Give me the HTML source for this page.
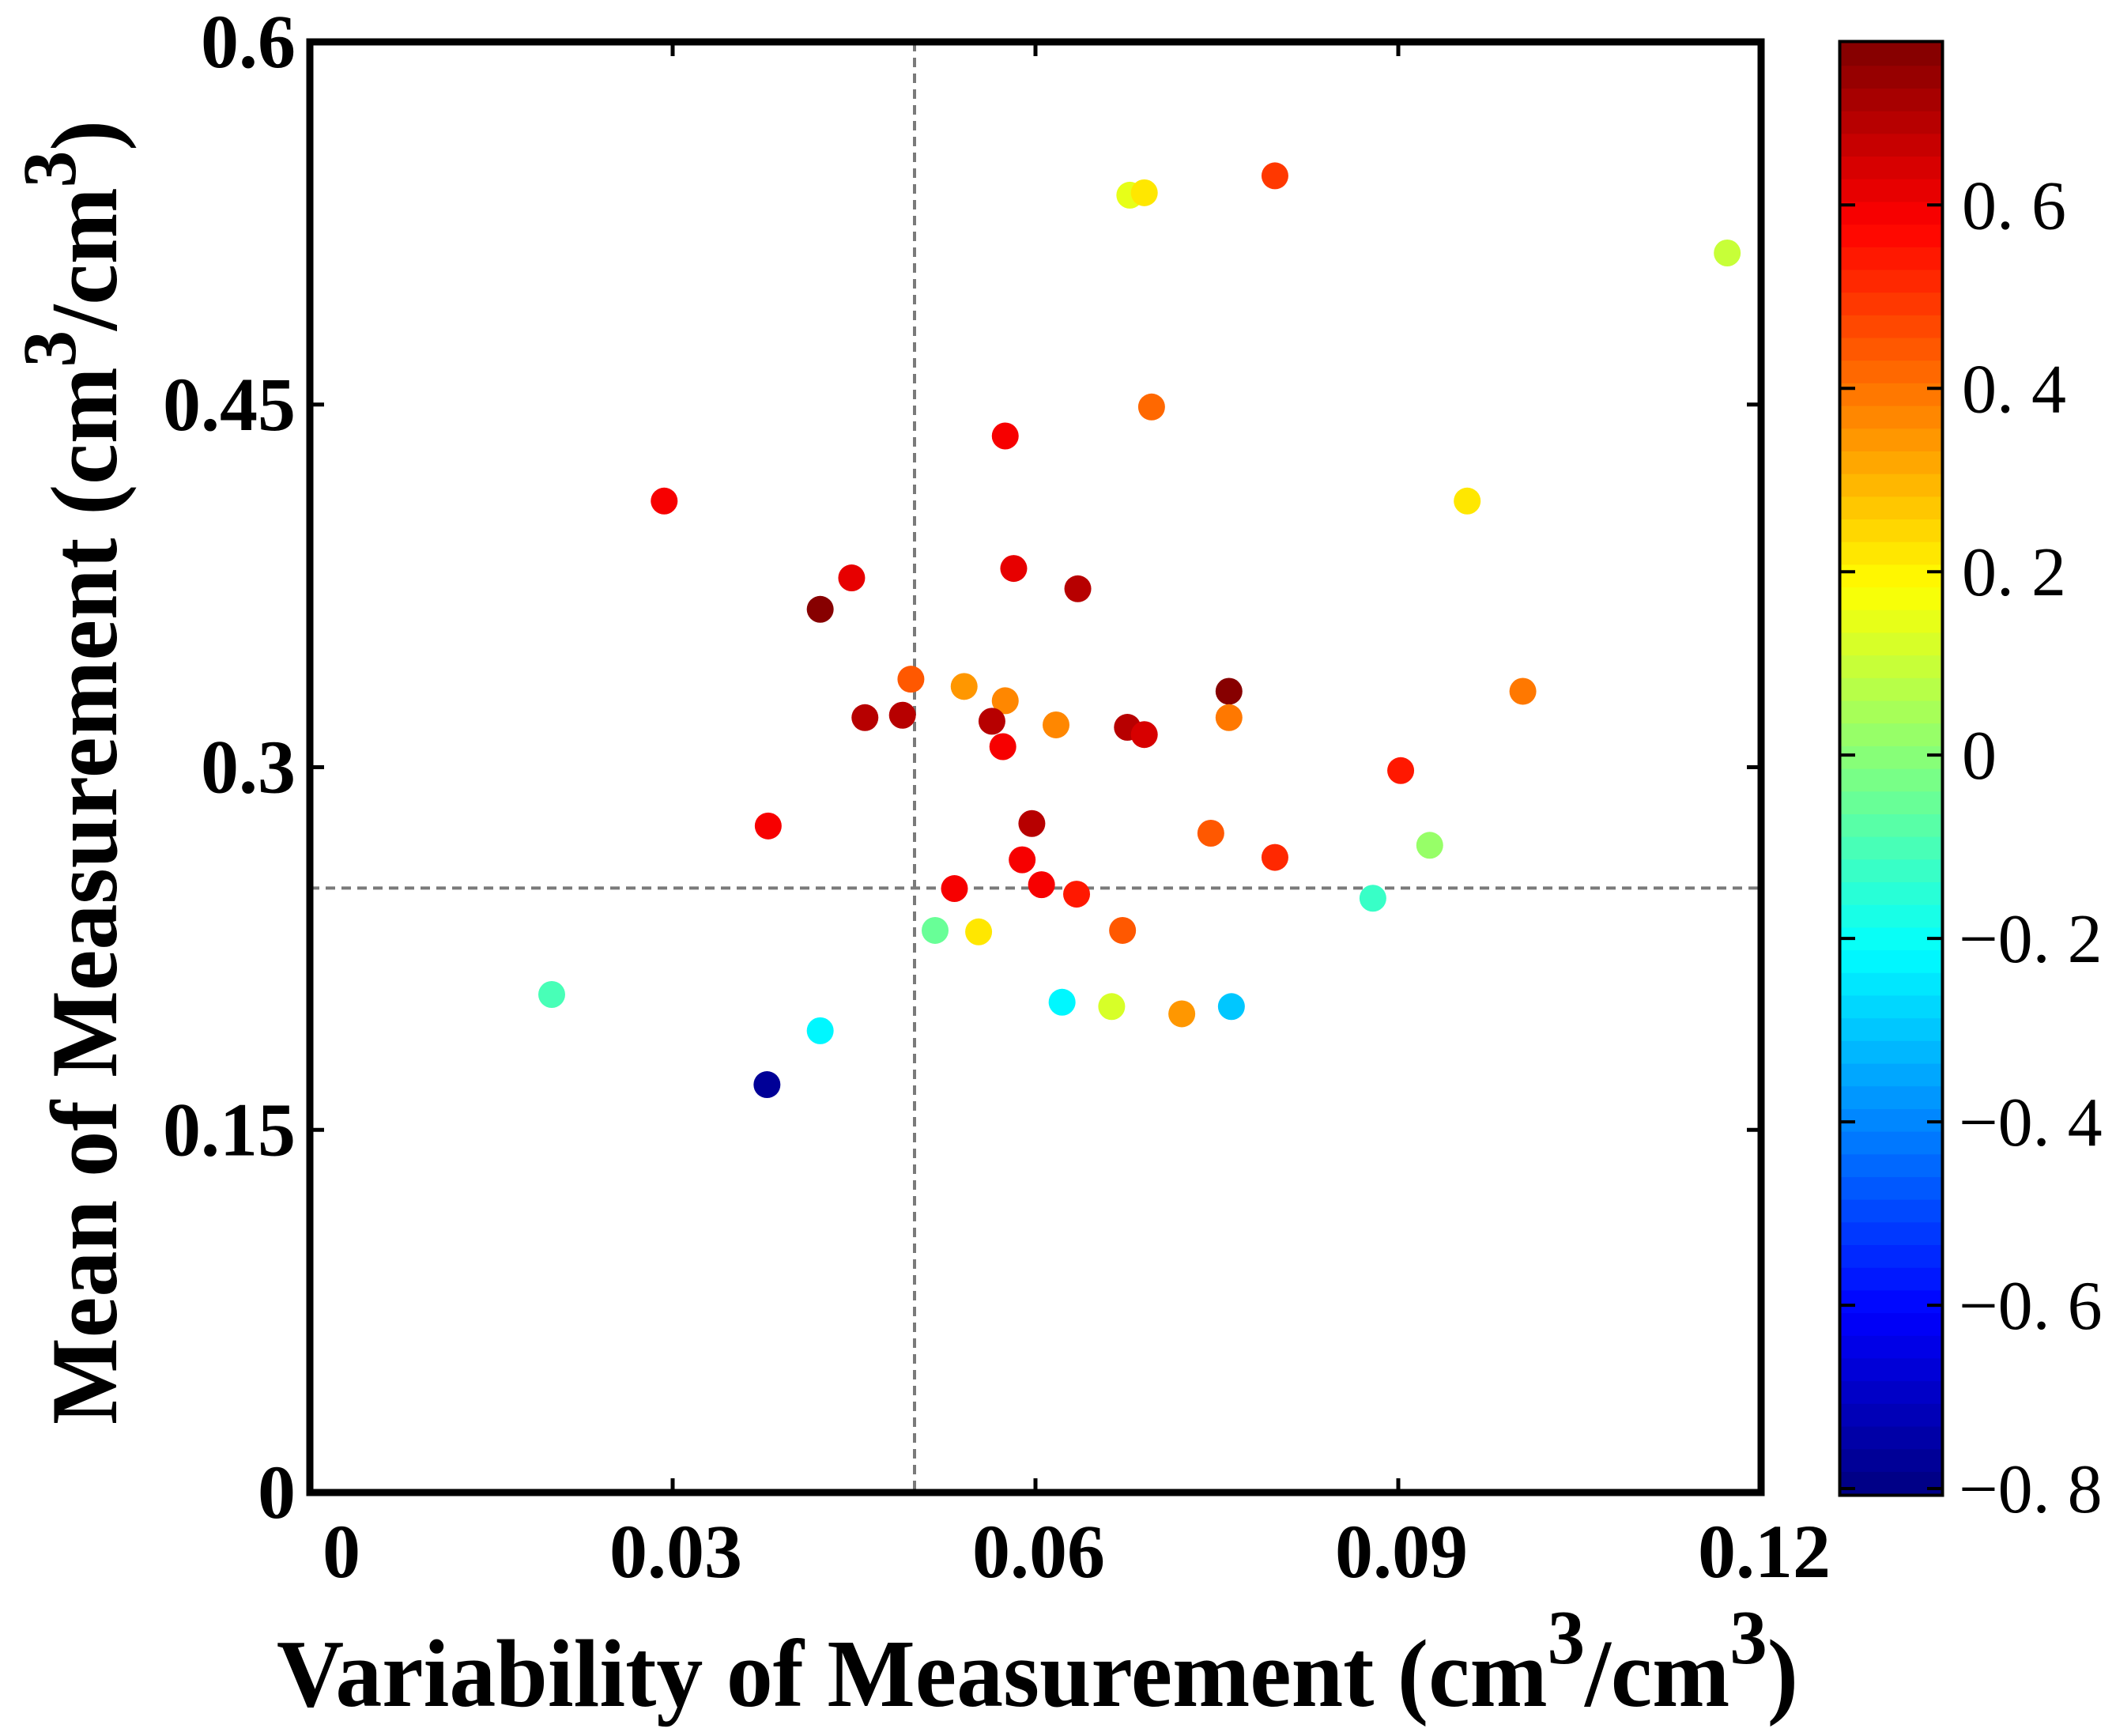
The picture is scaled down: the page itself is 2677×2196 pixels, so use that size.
<!DOCTYPE html>
<html><head><meta charset="utf-8"><style>
html,body{margin:0;padding:0;background:#fff;}
svg{display:block;}
text{font-family:"Liberation Serif","DejaVu Serif",serif;}
</style></head><body>
<svg id="chart" width="2677" height="2196" viewBox="0 0 2677 2196" xmlns="http://www.w3.org/2000/svg">
<rect width="2677" height="2196" fill="#fff"/>
<g id="plot"></g>
</svg>
<script>
const xValues = [0.0798,0.0678,0.0690,0.1172,0.0696,0.0575,0.0293,0.0957,0.0448,0.0582,0.0635,0.0422,0.0497,0.0541,0.0575,0.0760,0.1003,0.0459,0.0490,0.0564,0.0617,0.0676,0.0690,0.0760,0.0573,0.0902,0.0379,0.0597,0.0745,0.0798,0.0589,0.0926,0.0533,0.0605,0.0634,0.0879,0.0517,0.0553,0.0672,0.0200,0.0622,0.0663,0.0721,0.0762,0.0422,0.0378];
const yValues = [0.5446,0.5366,0.5376,0.5127,0.4490,0.4370,0.4101,0.4101,0.3783,0.3822,0.3738,0.3653,0.3364,0.3334,0.3275,0.3314,0.3314,0.3205,0.3215,0.3190,0.3175,0.3165,0.3135,0.3205,0.3085,0.2986,0.2757,0.2767,0.2727,0.2627,0.2617,0.2677,0.2498,0.2514,0.2475,0.2458,0.2325,0.2319,0.2325,0.2060,0.2028,0.2010,0.1980,0.2010,0.1910,0.1687];
const cValues = [0.5,0.15,0.22,0.1,0.42,0.6,0.6,0.22,0.62,0.62,0.7,0.76,0.45,0.35,0.38,0.76,0.4,0.7,0.7,0.7,0.38,0.7,0.65,0.4,0.6,0.55,0.6,0.7,0.45,0.52,0.6,0.03,0.6,0.6,0.55,-0.12,-0.05,0.22,0.45,-0.1,-0.22,0.12,0.35,-0.3,-0.22,-0.78];
const xTicks = [0,0.03,0.06,0.09,0.12];
const xTickLabels = ["0","0.03","0.06","0.09","0.12"];
const yTicks = [0,0.15,0.3,0.45,0.6];
const yTickLabels = ["0","0.15","0.3","0.45","0.6"];
const cTicks = [-0.8,-0.6,-0.4,-0.2,0,0.2,0.4,0.6];
const cTickLabels = ["\u22120. 8","\u22120. 6","\u22120. 4","\u22120. 2","0","0. 2","0. 4","0. 6"];
const refX = [0.05];
const refY = [0.25];

const NS="http://www.w3.org/2000/svg";
const g=document.getElementById('plot');
const X0=392,X1=2228,Y0=1888,Y1=53;
const xs=v=>X0+(v-0)/(0.12)*(X1-X0);
const ys=v=>Y0-(v-0)/(0.6)*(Y0-Y1);
const CB0=2329,CB1=2456,CBT=54,CBB=1890,CMIN=-0.806,CMAX=0.777;
const cs=v=>CBB-(v-CMIN)/(CMAX-CMIN)*(CBB-CBT);
function jet(t){
  t=Math.max(0,Math.min(1,t));
  const f=x=>Math.max(0,Math.min(1,x));
  const r=f(Math.min(4*t-1.5,-4*t+4.5));
  const gg=f(Math.min(4*t-0.5,-4*t+3.5));
  const b=f(Math.min(4*t+0.5,-4*t+2.5));
  return `rgb(${Math.round(r*255)},${Math.round(gg*255)},${Math.round(b*255)})`;
}
function colorFor(v){const idx=Math.floor((v-CMIN)/(CMAX-CMIN)*64);const k=Math.max(0,Math.min(63,idx));return jet((k+0.5)/64);}
function el(tag,attrs,parent){const e=document.createElementNS(NS,tag);for(const k in attrs)e.setAttribute(k,attrs[k]);(parent||g).appendChild(e);return e;}

refX.forEach(v=>{const l=el('line',{x1:xs(v),x2:xs(v),y1:Y1,y2:Y0,stroke:'#7a7a7a','stroke-width':4,'stroke-dasharray':'12,8'});

});
refY.forEach(v=>{const l=el('line',{x1:X0,x2:X1,y1:ys(v),y2:ys(v),stroke:'#7a7a7a','stroke-width':4,'stroke-dasharray':'12,8'});

});

xValues.forEach((x,i)=>{const c=el('circle',{cx:xs(x),cy:ys(yValues[i]),r:17,fill:colorFor(cValues[i])});

});

const box=el('rect',{x:X0,y:Y1,width:X1-X0,height:Y0-Y1,fill:'none',stroke:'#000','stroke-width':9});



xTicks.forEach((v,i)=>{
  const x=xs(v);
  el('line',{x1:x,x2:x,y1:Y0,y2:Y0-18,stroke:'#000','stroke-width':5});
  el('line',{x1:x,x2:x,y1:Y1,y2:Y1+18,stroke:'#000','stroke-width':5});
  const t=el('text',{x:i===0?432:x+4,y:1995,'font-size':96,'font-weight':'bold','text-anchor':'middle'});
  t.textContent=xTickLabels[i];
  
  
});
yTicks.forEach((v,i)=>{
  const y=ys(v);
  el('line',{x1:X0,x2:X0+18,y1:y,y2:y,stroke:'#000','stroke-width':5});
  el('line',{x1:X1,x2:X1-18,y1:y,y2:y,stroke:'#000','stroke-width':5});
  const t=el('text',{x:374,y:y+32,'font-size':96,'font-weight':'bold','text-anchor':'end'});
  t.textContent=yTickLabels[i];
  
  
});

for(let k=0;k<64;k++){
  const v0=CMIN+k/64*(CMAX-CMIN),v1=CMIN+(k+1)/64*(CMAX-CMIN);
  const r=el('rect',{x:CB0,y:cs(v1),width:CB1-CB0,height:cs(v0)-cs(v1)+0.6,fill:jet((k+0.5)/64)});
  
  
}
const cbf=el('rect',{x:CB0-1.5,y:CBT-1.5,width:CB1-CB0+3,height:CBB-CBT+3,fill:'none',stroke:'#000','stroke-width':4});


cTicks.forEach((v,i)=>{
  const y=cs(v);
  el('line',{x1:CB0,x2:CB0+18,y1:y,y2:y,stroke:'#000','stroke-width':4});
  el('line',{x1:CB1,x2:CB1-18,y1:y,y2:y,stroke:'#000','stroke-width':4});
  const t=el('text',{x:v<0?2478:2482,y:y+30,'font-size':88});
  t.textContent=cTickLabels[i];
  
  
});

const xt=el('text',{x:350,y:2158,'font-size':122,'font-weight':'bold',textLength:1925,lengthAdjust:'spacingAndGlyphs'});
xt.innerHTML='Variability of Measurement (cm<tspan dy="-54" font-size="98">3</tspan><tspan dy="54">/cm</tspan><tspan dy="-54" font-size="98">3</tspan><tspan dy="54">)</tspan>';


const yt=el('text',{x:0,y:0,'font-size':120,'font-weight':'bold',textLength:1650,lengthAdjust:'spacingAndGlyphs',transform:'translate(147,1802) rotate(-90)'});
yt.innerHTML='Mean of Measurement (cm<tspan dy="-52" font-size="96">3</tspan><tspan dy="52">/cm</tspan><tspan dy="-52" font-size="96">3</tspan><tspan dy="52">)</tspan>';


</script>
</body></html>
